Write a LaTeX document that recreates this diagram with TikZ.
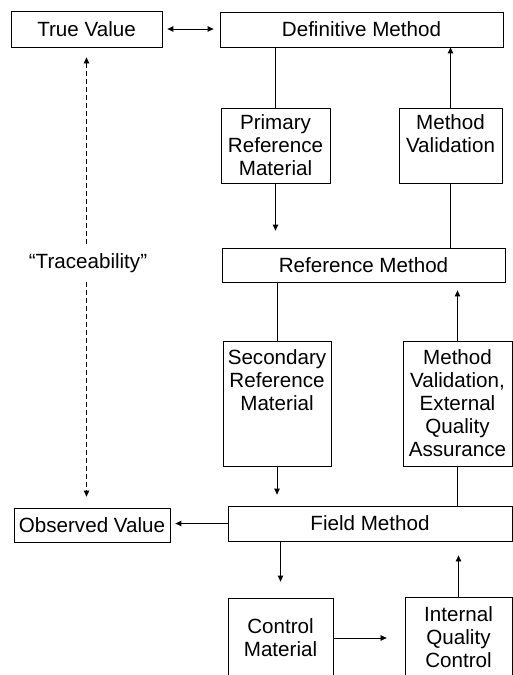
\documentclass[tikz,border=0pt]{standalone}
\usepackage{fontspec}
\setmainfont{Liberation Sans}
\usetikzlibrary{
    arrows.meta,
    positioning,
    calc
}

\begin{document}
\begin{tikzpicture}[
    x=1pt, y=-1pt,
    >={Triangle[length=6pt,width=5.5pt]},
    box/.style={draw, line width=0.8pt, align=center, inner sep=2pt,
        font=\fontsize{20.6}{23}\selectfont},
    conn/.style={line width=1pt},
    arr/.style={conn, ->},
    thinarr/.style={line width=0.6pt, ->},
    tracearr/.style={->, line width=0.8pt, dash pattern=on 5pt off 3pt}
]

\useasboundingbox (0,0) rectangle (513,675);
\clip (0,0) rectangle (513,675);

% top row
\node[box, minimum width=151, minimum height=36] (truev) at (86.5,29)
    {True Value};
\node[box, minimum width=283, minimum height=35] (defm) at (361.5,29.5)
    {Definitive Method};

\node[box, minimum width=109, minimum height=75] (prim) at (275.5,145.5)
    {Primary\\Reference\\Material};
\node[box, minimum width=103, minimum height=75] (mval) at (450.5,145.5)
    {Method\\Validation\\~};

\node[box, minimum width=283, minimum height=34] (refm) at (363.5,265)
    {Reference Method};

\node[box, minimum width=108, minimum height=125] (secr) at (277,403.5)
    {Secondary\\Reference\\Material\\~\\~};
\node[box, minimum width=109, minimum height=125] (mveqa) at (457.5,403.5)
    {Method\\Validation,\\External\\Quality\\Assurance};

% bottom part
\node[box, minimum width=156, minimum height=34] (obsv) at (92,525)
    {Observed Value};
\node[box, minimum width=284, minimum height=35] (fieldm) at (370,523.5)
    {Field Method};

\node[box, minimum width=105, minimum height=80] (ctrl) at (280.5,638)
    {Control\\Material};
\node[box, minimum width=107, minimum height=80] (iqc) at (458.5,637)
    {Internal\\Quality\\Control};

\node[font=\fontsize{20.6}{23}\selectfont, inner ysep=9pt] (trace) at (88,263)
    {“Traceability”};

% connectors
\draw[<->, conn, shorten <=5pt, shorten >=6pt] (truev.east) -- (defm.west |- truev.east);

\draw[conn] (prim.north) -- (prim.north |- defm.south);
\draw[arr, shorten >=17pt] (prim.south) -- (prim.south |- refm.north);
\draw[conn] (mval.south) -- (mval.south |- refm.north);
\draw[arr] (mval.north) -- (mval.north |- defm.south);

\draw[conn] (secr.north) -- (secr.north |- refm.south);
\draw[arr, shorten >=11pt] (secr.south) -- (secr.south |- fieldm.north);
\draw[conn] (mveqa.south) -- (mveqa.south |- fieldm.north);
\draw[arr, shorten >=8pt] (mveqa.north) -- (mveqa.north |- refm.south);

\draw[arr, shorten >=5pt] (fieldm.west) -- (fieldm.west -| obsv.east);
\draw[arr, shorten >=16pt] (ctrl.north |- fieldm.south) -- (ctrl.north);
\draw[thinarr, shorten >=18pt] (ctrl.east) -- (ctrl.east -| iqc.west);
\draw[thinarr, shorten >=14pt] (iqc.north) -- (iqc.north |- fieldm.south);

\draw[tracearr, shorten >=10pt] (trace.north -| truev.south) -- (truev.south);
\draw[tracearr, shorten >=11pt] (trace.south -| truev.south) -- (truev.south |- obsv.north);

\end{tikzpicture}
\end{document}
